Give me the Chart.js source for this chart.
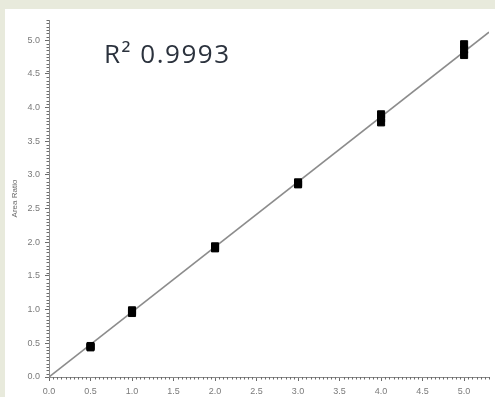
<!DOCTYPE html>
<html>
<head>
<meta charset="utf-8">
<script src="https://cdn.jsdelivr.net/npm/chart.js@4/dist/chart.umd.min.js"></script>
<style>
  html, body { margin: 0; padding: 0; background: #e8eadc; }
  body { width: 495px; height: 397px; position: relative; overflow: hidden; }
  #panel { position: absolute; left: 5px; top: 9px; width: 490px; height: 388px; background: #ffffff; }
  canvas { display: block; }
</style>
</head>
<body>
<div id="panel"><canvas id="calib" width="490" height="388"></canvas></div>
<script>
// Calibration standards: nominal concentration and measured area ratio (replicates)
const concLevels = [0.5, 0.5, 0.5, 1.0, 1.0, 1.0, 2.0, 2.0, 2.0, 3.0, 3.0, 3.0, 4.0, 4.0, 4.0, 5.0, 5.0, 5.0];
const areaRatios = [0.44, 0.45, 0.46, 0.95, 0.97, 0.99, 1.91, 1.92, 1.94, 2.86, 2.87, 2.89, 3.78, 3.84, 3.90, 4.78, 4.86, 4.94];

// Least-squares fit line, end points
const fitX = [0, 5.3];
const fitY = [0, 5.12];

// Axis ticks and labels
const xTickValues = [0.0, 0.5, 1.0, 1.5, 2.0, 2.5, 3.0, 3.5, 4.0, 4.5, 5.0];
const yTickValues = [0.0, 0.5, 1.0, 1.5, 2.0, 2.5, 3.0, 3.5, 4.0, 4.5, 5.0];
const minorStep = 0.05;
const yAxisTitle = 'Area Ratio';
const fitLabel = 'R\u00B2 0.9993';

const points = concLevels.map((c, i) => ({ x: c, y: areaRatios[i] }));
const fitPoints = fitX.map((v, i) => ({ x: v, y: fitY[i] }));

const tickFont = { family: 'Liberation Sans, Arial, sans-serif', size: 9 };

// Short minor ticks along both axes, plus the R² annotation
const extras = {
  id: 'extras',
  afterDraw(chart) {
    const { ctx, scales: { x, y } } = chart;
    ctx.save();
    ctx.strokeStyle = '#6b6b6b';
    ctx.lineWidth = 1;
    ctx.beginPath();
    const nx = Math.round(x.max / minorStep);
    for (let i = 1; i <= nx; i++) {
      if (i % 10 === 0) continue;
      const px = Math.round(x.getPixelForValue(i * minorStep)) + 0.5;
      ctx.moveTo(px, x.top);
      ctx.lineTo(px, x.top + 2.5);
    }
    const ny = Math.round(y.max / minorStep);
    for (let i = 1; i <= ny; i++) {
      if (i % 10 === 0) continue;
      const py = Math.round(y.getPixelForValue(i * minorStep)) + 0.5;
      ctx.moveTo(y.right, py);
      ctx.lineTo(y.right - 2.5, py);
    }
    ctx.stroke();

    ctx.fillStyle = '#2b323d';
    ctx.font = '26px "Open Sans", "Noto Sans", sans-serif';
    ctx.letterSpacing = '1.5px';
    ctx.textBaseline = 'alphabetic';
    ctx.textAlign = 'left';
    ctx.fillText(fitLabel, 99, 54);
    ctx.restore();
  }
};

new Chart(document.getElementById('calib'), {
  type: 'scatter',
  data: {
    datasets: [
      {
        type: 'line',
        data: fitPoints,
        borderColor: '#8c8c8c',
        borderWidth: 1.6,
        pointRadius: 0,
        fill: false,
        order: 2
      },
      {
        data: points,
        pointStyle: 'rect',
        pointRadius: 5,
        pointBorderWidth: 1,
        backgroundColor: '#000000',
        borderColor: '#000000',
        order: 1
      }
    ]
  },
  options: {
    responsive: false,
    animation: false,
    layout: { padding: { top: 11, right: 3, left: 0, bottom: 0 } },
    plugins: { legend: { display: false }, tooltip: { enabled: false } },
    scales: {
      x: {
        type: 'linear',
        min: 0,
        max: 5.3,
        afterBuildTicks: s => { s.ticks = xTickValues.map(v => ({ value: v })); },
        afterFit: s => { s.height = 20; },
        grid: { drawOnChartArea: false, tickLength: 4, tickColor: '#6b6b6b' },
        border: { color: '#8a8a8a', width: 1 },
        ticks: { font: tickFont, color: '#7a7a7a', padding: 5, maxRotation: 0,
                 callback: v => Number(v).toFixed(1) }
      },
      y: {
        type: 'linear',
        min: 0,
        max: 5.3,
        afterBuildTicks: s => { s.ticks = yTickValues.map(v => ({ value: v })); },
        afterFit: s => { s.width = 44; },
        grid: { drawOnChartArea: false, tickLength: 4, tickColor: '#6b6b6b' },
        border: { color: '#8a8a8a', width: 1 },
        ticks: { font: tickFont, color: '#7a7a7a', padding: 5,
                 callback: v => Number(v).toFixed(1) },
        title: { display: true, text: yAxisTitle, color: '#6a6a6a',
                 font: { family: 'Liberation Sans, Arial, sans-serif', size: 8 },
                 padding: { top: 5, bottom: 0 } }
      }
    }
  },
  plugins: [extras]
});
</script>
</body>
</html>
